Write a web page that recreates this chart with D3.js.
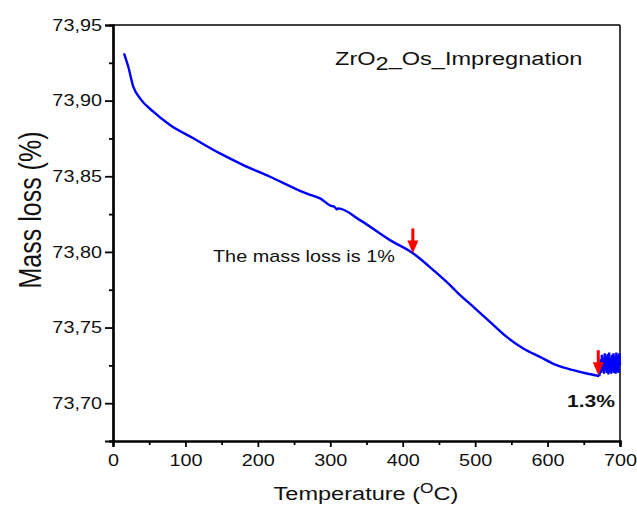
<!DOCTYPE html>
<html><head><meta charset="utf-8">
<script src="https://cdn.jsdelivr.net/npm/d3@7"></script>
<style>body{margin:0;background:#fff}svg text{font-family:"Liberation Sans",Arial,sans-serif;fill:#111}</style>
</head><body><svg id="c" width="637" height="509"></svg>
<script>
const temperature = [15.2,21.1,28.0,37.3,55.6,78.7,110.9,147.7,179.9,216.8,258.2,269.6,285.8,302.0,305.5,308.9,311.1,341.0,382.4,414.6,442.2,469.8,474.5,497.5,520.5,543.6,566.5,589.5,612.6,635.5,654.0,671.4];
const massLoss = [73.9313,73.9224,73.9092,73.9015,73.8927,73.8839,73.8751,73.8651,73.8574,73.8497,73.8404,73.8382,73.8354,73.8303,73.8300,73.8281,73.8288,73.8210,73.8078,73.7990,73.7880,73.7759,73.7736,73.7637,73.7538,73.7438,73.7362,73.7306,73.7251,73.7218,73.7196,73.7179];
// noisy tail
const tailTemperature = [672,673,674,675,676,677,678,679,680,681,682,683,684,685,686,687,688,689,690,691,692,693,694,695,696,697,698,699,700];
const tailMassLoss = [73.7195,73.7290,73.7200,73.7320,73.7210,73.7300,73.7195,73.7330,73.7215,73.7310,73.7200,73.7325,73.7190,73.7335,73.7205,73.7300,73.7195,73.7320,73.7210,73.7330,73.7200,73.7310,73.7195,73.7335,73.7205,73.7320,73.7200,73.7330,73.7250];
const xTicks = [0,100,200,300,400,500,600,700];
const yTicks = [73.70,73.75,73.80,73.85,73.90,73.95];
const arrowTemperatures = [414, 670];
const arrowMassLoss = [73.7990, 73.7185];

const SX = 1.24; // horizontal stretch of the reference text
const svg = d3.select("#c");
const L=113, R=620, T=25, B=441;
const x = d3.scaleLinear().domain([0,700]).range([L,R]);
const y = d3.scaleLinear().domain([73.675,73.95]).range([B,T]);

svg.append("line").attr("x1",L).attr("x2",R).attr("y1",T).attr("y2",T).attr("stroke","#000").attr("stroke-width",1.5);
svg.append("line").attr("x1",R).attr("x2",R).attr("y1",T).attr("y2",B).attr("stroke","#000").attr("stroke-width",1.5);

const fmt = d => d.toFixed(2).replace(".",",");
const gx = svg.append("g").attr("transform",`translate(0,${B})`)
  .call(d3.axisBottom(x).tickValues(xTicks).tickSize(6).tickPadding(4).tickFormat(d3.format("d")));
const gxm = svg.append("g").attr("transform",`translate(0,${B})`)
  .call(d3.axisBottom(x).tickValues([50,150,250,350,450,550,650]).tickSize(4).tickFormat(""));
const gy = svg.append("g").attr("transform",`translate(${L},0)`)
  .call(d3.axisLeft(y).tickValues(yTicks).tickSize(8).tickPadding(3).tickFormat(fmt));
const gym = svg.append("g").attr("transform",`translate(${L},0)`)
  .call(d3.axisLeft(y).tickValues([73.675,73.725,73.775,73.825,73.875,73.925]).tickSize(4).tickFormat(""));
[gx,gxm,gy,gym].forEach(g=>{
  g.select(".domain").attr("stroke","#000").attr("stroke-width",2.2);
  g.selectAll(".tick line").attr("stroke","#000").attr("stroke-width",1.8);
  g.selectAll("text").style("font-size","16px").attr("fill","#111");
});
gx.selectAll("text").attr("dy","0.95em").attr("transform",`scale(${SX},1)`);
gy.selectAll("text").attr("x",-11/SX).attr("transform",`scale(${SX},1)`);

const line = d3.line().x(d=>x(d[0])).y(d=>y(d[1]));
const main = temperature.map((t,i)=>[t,massLoss[i]]);
const tail = [[671.4,73.7179]].concat(tailTemperature.map((t,i)=>[t,tailMassLoss[i]]));
svg.append("path").datum(main).attr("d",line.curve(d3.curveMonotoneX)).attr("fill","none").attr("stroke","#0000ff").attr("stroke-width",2.4);
svg.append("path").datum(tail).attr("d",d3.line().x(d=>x(d[0])).y(d=>y(d[1]))).attr("fill","none").attr("stroke","#0000ff").attr("stroke-width",2.4);

arrowTemperatures.forEach((t,i)=>{
  const ax=x(t), ay=y(arrowMassLoss[i]);
  svg.append("rect").attr("x",ax-1.5).attr("y",ay-25).attr("width",3).attr("height",14).attr("fill","#ff0000");
  svg.append("path").attr("d",`M${ax-5.5},${ay-13}L${ax+5.5},${ay-13}L${ax},${ay}Z`).attr("fill","#ff0000");
});

function label(px,py,size,weight){
  return svg.append("g").attr("transform",`translate(${px},${py}) scale(${SX},1)`)
    .append("text").style("font-size",size+"px").style("font-weight",weight||"normal");
}
const title = label(335,65,19);
title.append("tspan").text("ZrO");
title.append("tspan").attr("dy",5).text("2");
title.append("tspan").attr("dy",-5).text("_Os_Impregnation");

label(213,262,16).text("The mass loss is 1%");
label(567,407,17,"bold").text("1.3%");

svg.append("text").attr("transform",`translate(41,210) rotate(-90) scale(1,${SX})`).attr("text-anchor","middle").style("font-size","25px").text("Mass loss (%)");
const xl = label(366,500,19).attr("text-anchor","middle");
xl.append("tspan").text("Temperature (");
xl.append("tspan").attr("dy",-7).style("font-size","14px").text("O");
xl.append("tspan").attr("dy",7).text("C)");
</script></body></html>
